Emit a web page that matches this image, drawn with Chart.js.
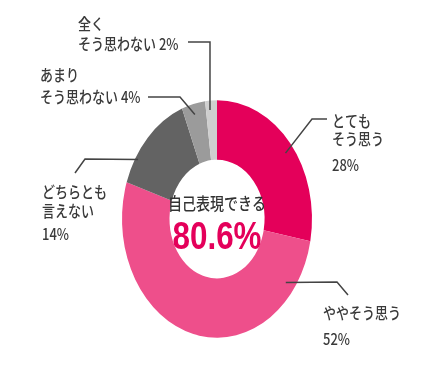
<!DOCTYPE html>
<html><head><meta charset="utf-8">
<script src="https://cdn.jsdelivr.net/npm/chart.js@4/dist/chart.umd.min.js"></script>
<style>html,body{margin:0;padding:0;background:#fff;}canvas{display:block;}</style>
</head><body>
<canvas id="c" width="437" height="371"></canvas>
<script>
// ---- data ----
const categories = ['とてもそう思う','ややそう思う','どちらとも言えない','あまりそう思わない','全くそう思わない'];
const values = [28, 52, 14, 4, 2];
const labelLines = [['とても','そう思う'],['ややそう思う'],['どちらとも','言えない'],['あまり','そう思わない'],['全く','そう思わない']];
const percentInline = [false, false, false, true, true];
const centerTitle = '自己表現できる';
const centerValue = '80.6%';

// ---- styles / layout ----
const colors = ['#E4005A','#EE4F8B','#636363','#9B9B9B','#CFCFCF'];
const STRETCH = 1.25;      // vertical stretch of the ring
const TEXT_STRETCH = 1.2;  // vertical stretch of text
const labelLayout = [
  {f:0.52, r:0.91, path:[[312,119],[327,119]], tx:332, ty:[121,139,165]},
  {f:0.137,r:0.90, path:[[337,282],[348,295]], tx:323, ty:[313,339]},
  {f:0.26, r:0.97, path:[[85,159],[75,173]],   tx:42,  ty:[192,211,234]},
  {f:0.47, r:0.91, path:[[180,97],[148,97]],   tx:40,  ty:[75,97]},
  {f:0.36, r:0.92, path:[[210,42],[188,42]],   tx:78,  ty:[24,44]}
];

const stretchPlugin = {
  id:'stretch',
  beforeDatasetsDraw(chart){
    const a = chart.getDatasetMeta(0).data[0];
    const ctx = chart.ctx;
    ctx.save();
    ctx.translate(a.x, a.y); ctx.scale(1, STRETCH); ctx.translate(-a.x, -a.y);
  },
  afterDatasetsDraw(chart){ chart.ctx.restore(); }
};

function drawText(ctx, s, x, y, font, color, align, sy, maxW){
  ctx.save();
  ctx.font = font; ctx.fillStyle = color; ctx.textAlign = align; ctx.textBaseline = 'middle';
  let sx = 1;
  if (maxW) { const w = ctx.measureText(s).width; if (w > maxW) sx = maxW / w; }
  ctx.translate(x, y); ctx.scale(sx, sy);
  ctx.fillText(s, 0, 0);
  ctx.restore();
}

const labelPlugin = {
  id:'labels',
  afterDraw(chart){
    const ctx = chart.ctx;
    const meta = chart.getDatasetMeta(0);
    const lblFont = '500 13px "Noto Sans CJK JP", sans-serif';
    meta.data.forEach((el, i) => {
      const L = labelLayout[i];
      const a = el.startAngle + L.f * (el.endAngle - el.startAngle);
      const r = el.outerRadius * L.r;
      const px = el.x + r * Math.cos(a);
      const py = el.y + STRETCH * r * Math.sin(a);
      ctx.save();
      ctx.strokeStyle = '#444'; ctx.lineWidth = 1.5;
      ctx.beginPath(); ctx.moveTo(px, py);
      L.path.forEach(p => ctx.lineTo(p[0], p[1]));
      ctx.stroke();
      ctx.restore();
      const lines = labelLines[i].slice();
      const pct = values[i] + '%';
      if (percentInline[i]) lines[lines.length-1] += ' ' + pct; else lines.push(pct);
      lines.forEach((s, k) => drawText(ctx, s, L.tx, L.ty[k], lblFont, '#3a3a3a', 'left', TEXT_STRETCH));
    });
    const c = meta.data[0];
    drawText(ctx, centerTitle, c.x, 204, '500 14px "Noto Sans CJK JP", sans-serif', '#333', 'center', TEXT_STRETCH);
    drawText(ctx, centerValue, c.x, 239, 'bold 38px "Liberation Sans", Arial, sans-serif', '#E4005A', 'center', 1.0, 89);
  }
};

new Chart(document.getElementById('c'), {
  type:'doughnut',
  data:{ labels:categories, datasets:[{ data:values, backgroundColor:colors, borderWidth:0 }] },
  options:{
    responsive:false, animation:false, cutout:'50%',
    layout:{ padding:{left:122, right:125, top:124, bottom:57} },
    plugins:{ legend:{display:false}, tooltip:{enabled:false} }
  },
  plugins:[stretchPlugin, labelPlugin]
});
</script>
</body></html>
